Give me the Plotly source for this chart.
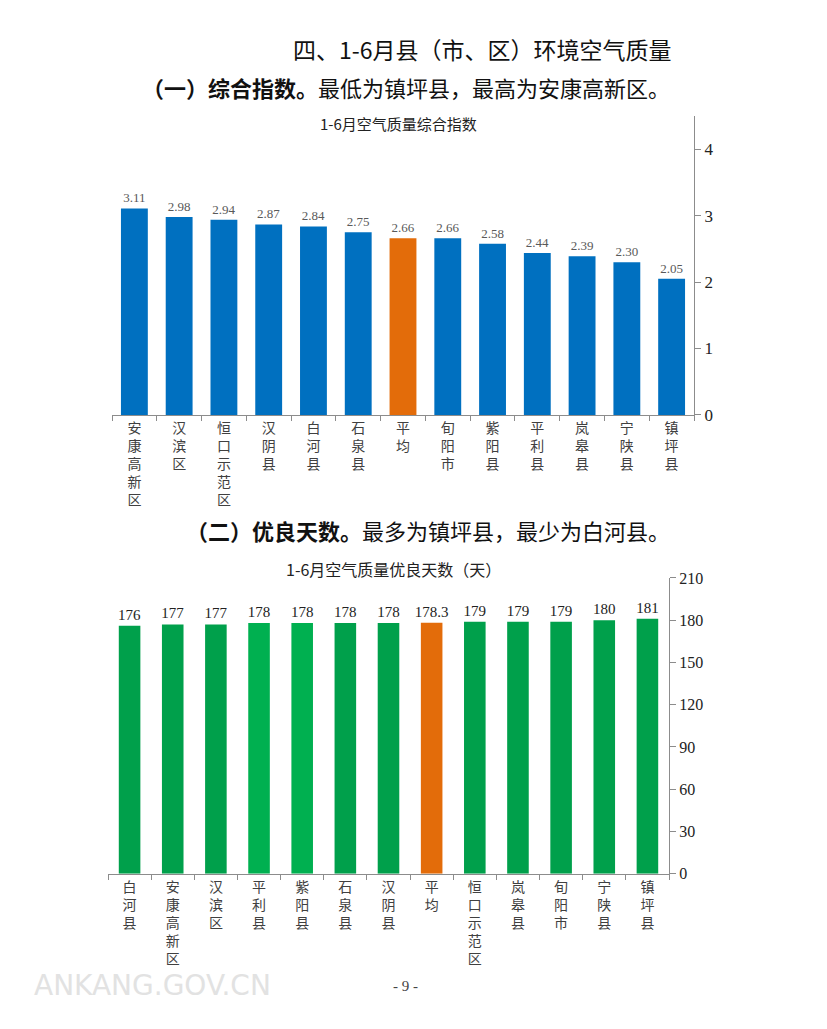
import plotly.graph_objects as go

# ---- data ----
cats1 = ["安康高新区", "汉滨区", "恒口示范区", "汉阴县", "白河县", "石泉县", "平均",
         "旬阳市", "紫阳县", "平利县", "岚皋县", "宁陕县", "镇坪县"]
vals1 = [3.11, 2.98, 2.94, 2.87, 2.84, 2.75, 2.66, 2.66, 2.58, 2.44, 2.39, 2.30, 2.05]

cats2 = ["白河县", "安康高新区", "汉滨区", "平利县", "紫阳县", "石泉县", "汉阴县", "平均",
         "恒口示范区", "岚皋县", "旬阳市", "宁陕县", "镇坪县"]
vals2 = [176, 177, 177, 178, 178, 178, 178, 178.3, 179, 179, 179, 180, 181]
labels2 = ["176", "177", "177", "178", "178", "178", "178", "178.3", "179", "179", "179", "180", "181"]

BLUE = "#0070C0"
ORANGE = "#E36C0A"
GREEN_D = "#00A04B"
GREEN_L = "#00B050"

colors1 = [ORANGE if c == "平均" else BLUE for c in cats1]
colors2 = [ORANGE if c == "平均" else (GREEN_L if c in ("平利县", "紫阳县") else GREEN_D) for c in cats2]


def vert(s):
    return "<br>".join(list(s))


W, H = 827, 1029
OFF = 8  # page body margin


def px(x):
    return (x - OFF) / W


def py(y):
    return 1 - (y - OFF) / H


fig = go.Figure()
fig.add_trace(go.Bar(
    x=cats1, y=vals1, width=0.6, marker=dict(color=colors1, line=dict(width=0)),
    text=[f"{v:.2f}" for v in vals1], textposition="outside", cliponaxis=False,
    constraintext="none",
    textfont=dict(family="Liberation Serif", size=13, color="#595959"),
    xaxis="x", yaxis="y", showlegend=False,
))
fig.add_trace(go.Bar(
    x=cats2, y=vals2, width=0.5, marker=dict(color=colors2, line=dict(width=0)),
    text=labels2, textposition="outside", cliponaxis=False,
    constraintext="none",
    textfont=dict(family="Liberation Serif", size=15, color="#222222"),
    xaxis="x2", yaxis="y2", showlegend=False,
))

axis_line = "#8c8c8c"
cjk = "Noto Sans CJK SC"

fig.update_layout(
    width=W, height=H, margin=dict(l=0, r=0, t=0, b=0),
    paper_bgcolor="white", plot_bgcolor="white",
    xaxis=dict(domain=[px(112), px(694)], type="category",
               tickvals=cats1, ticktext=[vert(c) for c in cats1],
               tickson="boundaries", ticks="outside", ticklen=5, tickcolor=axis_line,
               showline=True, linecolor=axis_line, linewidth=1,
               tickfont=dict(family=cjk, size=14, color="#404040"),
               showgrid=False, anchor="y"),
    yaxis=dict(domain=[py(414), py(110)], range=[0, 4.5], tickvals=[0, 1, 2, 3, 4],
               side="right", ticks="outside", ticklen=6, tickcolor=axis_line,
               showline=True, linecolor=axis_line, linewidth=1,
               tickfont=dict(family="Liberation Serif", size=17, color="#222222"),
               showgrid=False, zeroline=False, anchor="x"),
    xaxis2=dict(domain=[px(108), px(669)], type="category",
                tickvals=cats2, ticktext=[vert(c) for c in cats2],
                tickson="boundaries", ticks="outside", ticklen=5, tickcolor=axis_line,
                showline=True, linecolor=axis_line, linewidth=1,
                tickfont=dict(family=cjk, size=14, color="#404040"),
                showgrid=False, anchor="y2"),
    yaxis2=dict(domain=[py(881), py(580)], range=[0, 210], tickvals=list(range(0, 211, 30)),
                side="right", ticks="outside", ticklen=6, tickcolor=axis_line,
                showline=True, linecolor=axis_line, linewidth=1,
                tickfont=dict(family="Liberation Serif", size=16, color="#222222"),
                showgrid=False, zeroline=False, anchor="x2"),
)

annos = [
    dict(text="四、1-6月县（市、区）环境空气质量", x=px(674), y=py(42), xanchor="right",
         font=dict(family=cjk, size=23, color="#111111")),
    dict(text="<b>（一）综合指数。</b>最低为镇坪县，最高为安康高新区。", x=px(672), y=py(80),
         xanchor="right", font=dict(family=cjk, size=22, color="#111111")),
    dict(text="1-6月空气质量综合指数", x=px(398), y=py(117), xanchor="center",
         font=dict(family=cjk, size=15, color="#222222")),
    dict(text="<b>（二）优良天数。</b>最多为镇坪县，最少为白河县。", x=px(672), y=py(531),
         xanchor="right", font=dict(family=cjk, size=22, color="#111111")),
    dict(text="1-6月空气质量优良天数（天）", x=px(393), y=py(571), xanchor="center",
         font=dict(family=cjk, size=16, color="#222222")),
    dict(text="- 9 -", x=px(405), y=py(995), xanchor="center",
         font=dict(family="Liberation Serif", size=15, color="#444444")),
    dict(text="ANKANG.GOV.CN", x=px(152), y=py(995), xanchor="center",
         font=dict(family="DejaVu Sans", size=28, color="#e2e2e2")),
]
for a in annos:
    a.update(xref="paper", yref="paper", yanchor="middle", showarrow=False)
fig.update_layout(annotations=annos)

fig.write_html("out.html")
